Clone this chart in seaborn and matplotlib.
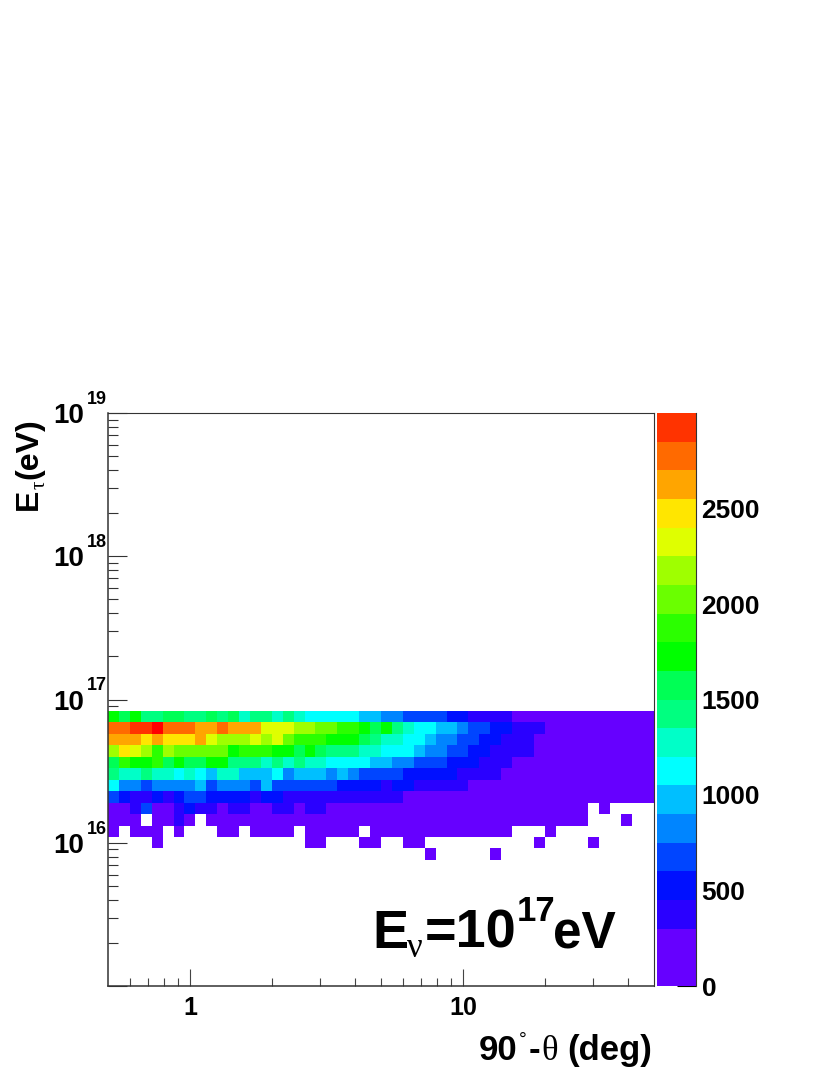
import numpy as np
import pandas as pd
import matplotlib
matplotlib.use("Agg")
import matplotlib.pyplot as plt
from matplotlib.colors import ListedColormap
from matplotlib.transforms import ScaledTranslation
import seaborn as sns

W, H = 830, 1075

# counts per bin, 50 theta bins, 0 = empty
row_23 = [1725,1575,1725,1425,1425,1575,1575,1425,1425,1575,1425,1575,1275,1425,1425,1275,1425,1275,1125,1125,1125,1125,1125,975,975,
          825,825,675,675,675,675,525,525,375,375,375,375] + [150]*13
row_22 = [2775,2775,2925,2925,3050,2775,2775,2775,2625,2625,2775,2625,2625,2625,2325,2325,2325,2175,2175,2025,2025,1875,1875,1725,1575,
          1725,1425,1275,1125,1125,975,975,825,675,675,525,525,375,375,375] + [150]*10
row_21 = [2625,2625,2625,2475,2625,2475,2475,2475,2625,2325,2175,2175,2175,2325,2175,2325,2025,1875,1875,1875,1725,1725,1725,1575,1425,
          1275,1275,1125,1125,975,825,825,675,675,525,525,375,375,375] + [150]*11
row_20 = [2175,2475,2325,2175,1875,2175,2025,2025,2025,2025,2025,1725,1875,1875,1875,1725,1725,1575,1725,1575,1425,1425,1425,1275,1275,
          1125,1125,1125,975,825,825,675,675,525,525,375,375,375,375] + [150]*11
row_19 = [1575,1875,1725,1725,1875,1575,1725,1575,1575,1725,1725,1425,1425,1425,1275,1425,1275,1425,1275,1275,1125,1125,1125,1125,975,
          975,825,825,675,675,675,525,525,525,375,375,375] + [150]*13
row_18 = [1425,1275,1275,1425,1275,1275,1125,1275,1125,975,1275,1275,975,975,975,1125,825,975,975,975,825,975,825,675,675,
          675,675,525,525,525,525,525,375,375,375,375] + [150]*14
row_17 = [1125,825,825,675,825,825,825,825,975,675,825,825,825,675,975,675,675,675,675,675,675,525,525,525,525,
          375,525,525,375,375,375,375,375] + [150]*17
row_16 = [675,525,375,375,525,375,525,675,675,525,525,525,525,375,525,525,375,375,375,375,375,375,375,375,375,
          375,375] + [150]*23
row_15 = [150,150,375,675,150,150,375,525,375,375,150,375,375,150,150,375,375,150,375,375,150,150,150,150,150] + [150]*19 + [0,150,0,0,0,0]
row_14 = [150,150,150,0,150,150,375,150,0,150] + [150]*34 + [0,0,0,150,0,0]
row_13 = [150,0,150,150,150,0,150,0,0,0,150,150,0,150,150,150,150,0,150,150,150,150,150,0,150] + [150]*12 + [0,0,0,150] + [0]*9
row_12 = [0,0,0,0,150] + [0]*13 + [150,150,0,0,0,150,150,0,0,150,150] + [0]*10 + [150,0,0,0,0,150] + [0]*5
row_11 = [0]*29 + [150] + [0]*5 + [150] + [0]*14

filled_rows = {11: row_11, 12: row_12, 13: row_13, 14: row_14, 15: row_15, 16: row_16, 17: row_17,
               18: row_18, 19: row_19, 20: row_20, 21: row_21, 22: row_22, 23: row_23}

palette = ["#6600ff", "#6600ff", "#2a00ff", "#0010ff", "#0045ff", "#0085ff", "#00bfff", "#00ffff", "#00ffc8", "#00ff80",
           "#00ff55", "#00ff00", "#2bff00", "#6aff00", "#9fff00", "#dfff00", "#ffe600", "#ffa500", "#ff6a00", "#ff3300"]
cbar_ticks = [0, 500, 1000, 1500, 2000, 2500]
x_major = [1, 10]
x_minor = [0.6, 0.7, 0.8, 0.9, 2, 3, 4, 5, 6, 7, 8, 9, 20, 30, 40]
y_decades = [15, 16, 17, 18, 19]
y_labels = ["", "10", "10", "10", "10"]

sns.set_style("white")
plt.rcParams["font.family"] = ["Liberation Sans"]
plt.rcParams["font.weight"] = "bold"
plt.rcParams["text.color"] = "black"
plt.rcParams["xtick.labelcolor"] = "black"
plt.rcParams["ytick.labelcolor"] = "black"

# matrix with bin 0 at the bottom of the plot
counts = np.zeros((50, 50))
for i, r in filled_rows.items():
    counts[i] = r
df = pd.DataFrame(counts)

cmap = ListedColormap(palette)
cmap.set_over("#ff0000")
cmap.set_bad((1, 1, 1, 0))

fig = plt.figure(figsize=(W / 100, H / 100), dpi=100, facecolor="white")
ax = fig.add_axes([108 / W, 1 - 986 / H, 546 / W, 573 / H])
cax = fig.add_axes([657 / W, 1 - 986 / H, 39 / W, 573 / H])

sns.heatmap(df, mask=df == 0, cmap=cmap, vmin=0, vmax=3000, ax=ax, cbar_ax=cax,
            xticklabels=False, yticklabels=False)
ax.invert_yaxis()


def x_pos(v):
    return 25 * np.log10(np.asarray(v, dtype=float) / 0.5)


def y_pos(e):
    return 12.5 * (np.asarray(e, dtype=float) - 15)


ax.set_xticks(x_pos(x_major))
ax.set_xticklabels([str(v) for v in x_major], fontsize=18, fontweight="bold", color="black")
ax.set_xticks(x_pos(x_minor), minor=True)
ax.set_yticks(y_pos(y_decades))
ax.set_yticklabels(y_labels, fontsize=20, fontweight="bold", color="black")
y_minor = [d + np.log10(m) for d in y_decades[:-1] for m in range(2, 10)]
ax.set_yticks(y_pos(y_minor), minor=True)
ax.tick_params(axis="x", which="major", direction="in", length=12.5, width=0.8, color="#444444", pad=7.5, bottom=True)
ax.tick_params(axis="x", which="minor", direction="in", length=6, width=0.8, color="#444444", bottom=True)
ax.tick_params(axis="y", which="major", direction="in", length=14, width=0.8, color="#333333", pad=17, left=True)
ax.tick_params(axis="y", which="minor", direction="in", length=7, width=0.8, color="#333333", left=True)
for lab in ax.get_yticklabels():
    lab.set_verticalalignment("baseline")
    lab.set_transform(lab.get_transform() + ScaledTranslation(0, -10 / 100, fig.dpi_scale_trans))

# the exponents sit apart from the 10, ROOT style
for d in y_decades[1:]:
    ax.annotate(str(d), xy=(0, y_pos(d)), xycoords=("axes fraction", "data"),
                xytext=(-21 / 100 * 72, 9 / 100 * 72), textcoords="offset points",
                fontsize=13, fontweight="bold", color="black", ha="left", va="baseline")

for side, sp in ax.spines.items():
    sp.set_visible(True)
    sp.set_color("#333333")
    sp.set_linewidth(1.1 if side in ("left", "bottom") else 0.8)

cax.set_yticks(cbar_ticks)
cax.set_yticklabels([str(t) for t in cbar_ticks], fontsize=19, fontweight="bold", color="black")
cax.tick_params(axis="y", direction="in", length=13.5, width=0.8, color="black", pad=4, right=True)
cax.spines["right"].set_visible(True)
cax.spines["right"].set_color("#333333")
cax.spines["right"].set_linewidth(0.8)


def put(x, y, s, size, **kw):
    # x, y in pixels of the image, y is the baseline
    kw.setdefault("weight", "bold")
    kw.setdefault("family", "Liberation Sans")
    return fig.text(x / W, 1 - y / H, s, fontsize=size, ha="left", va="baseline", **kw)


# x axis title
put(479, 1060, "90", 25)
put(519, 1045, "°", 14, weight="normal")
put(529, 1060, "-", 25)
put(541, 1060, "θ", 25, family="Liberation Serif", weight="normal")
put(567, 1060, "(deg)", 25)

# y axis title
put(37, 510, "E", 23, rotation=90, rotation_mode="anchor")
put(45, 489, "τ", 15, family="Liberation Serif", weight="normal", rotation=90, rotation_mode="anchor")
put(37, 479, "(eV)", 23, rotation=90, rotation_mode="anchor")

# beam energy note
put(372, 948, "E", 39)
put(407, 957, "ν", 25, family="Liberation Serif", weight="normal")
put(425, 948, "=10", 39)
put(517, 921, "17", 25)
put(553, 948, "eV", 37)

fig.savefig("out.png", dpi=100, facecolor="white")
